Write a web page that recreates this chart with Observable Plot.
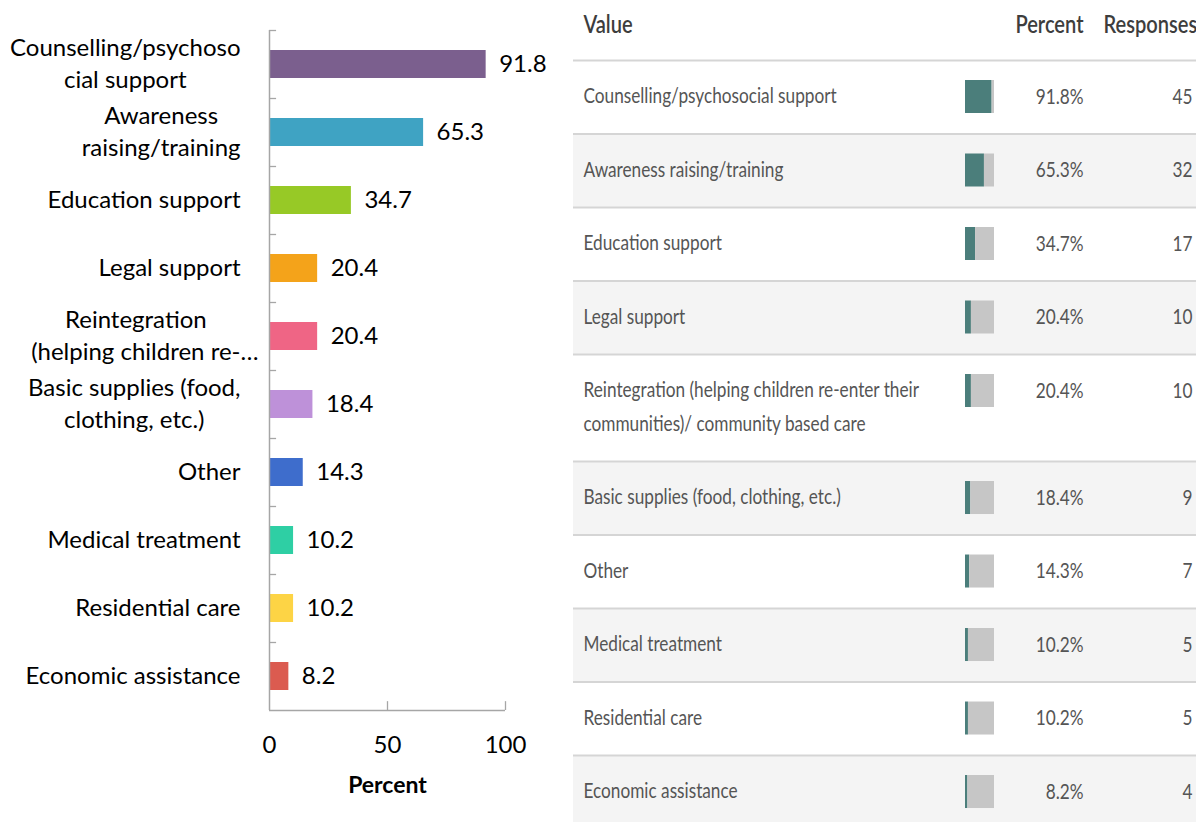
<!DOCTYPE html>
<html><head><meta charset="utf-8">
<script src="https://cdn.jsdelivr.net/npm/d3@7"></script>
<script src="https://cdn.jsdelivr.net/npm/@observablehq/plot@0.6"></script>
<style>
html,body{margin:0;padding:0;background:#fff;overflow:hidden;width:1196px;height:822px;}
#left{position:absolute;left:0;top:0;width:570px;height:822px;}
#right{position:absolute;left:570px;top:0;width:626px;height:822px;overflow:hidden;}
#right svg,#left svg{max-width:none !important;}
</style></head><body>
<div id="left"></div><div id="right"></div>
<script>
// ---- data ----
const categories = ["Counselling/psychosocial support","Awareness raising/training","Education support","Legal support","Reintegration","Basic supplies","Other","Medical treatment","Residential care","Economic assistance"];
const chartLabels = ["Counselling/psychoso\ncial support","Awareness\nraising/training","Education support","Legal support","Reintegration\n(helping children re-…","Basic supplies (food,\nclothing, etc.)","Other","Medical treatment","Residential care","Economic assistance"];
const tableLabels = ["Counselling/psychosocial support","Awareness raising/training","Education support","Legal support","Reintegration (helping children re-enter their\ncommunities)/ community based care","Basic supplies (food, clothing, etc.)","Other","Medical treatment","Residential care","Economic assistance"];
const percents = [91.8,65.3,34.7,20.4,20.4,18.4,14.3,10.2,10.2,8.2];
const responses = [45,32,17,10,10,9,7,5,5,4];
const xTicks = [0,50,100];
const headers = ["Value","Percent","Responses"];
const axisTitle = "Percent";

// ---- styles ----
const palette = ["#7b5f8e","#3fa3c3","#97c926","#f4a31a","#ef6585","#be91d9","#3e6dcc","#2ecfa4","#fdd445","#db5b50"];
const axisGray = "#a6a6a6";
const leftFont = "Lato, 'Open Sans', sans-serif";
const tableFont = "Lato, 'Open Sans', sans-serif";
const fs = 24;

const n = categories.length;
const rows = categories.map((c,i)=>({i, cat:c, label:chartLabels[i], pct:percents[i]}));

const left = Plot.plot({
  width: 570, height: 822,
  marginLeft: 269, marginRight: 65, marginTop: 30, marginBottom: 112,
  style: {fontFamily: leftFont, background: "transparent", color: "#000", maxWidth: "none"},
  x: {domain:[0,100], axis:null},
  y: {domain:[0,n], reverse:true, axis:null},
  color: {domain: categories, range: palette},
  marks: [
    Plot.rect(rows, {x1:0, x2:"pct", y1:"i", y2:d=>d.i+1, insetTop:20, insetBottom:20, fill:"cat"}),
    Plot.ruleY(d3.range(n), {y:d=>d, x1:0, x2:3, stroke:axisGray, strokeWidth:1.3}),
    Plot.ruleX([0], {stroke:axisGray, strokeWidth:1.5}),
    Plot.ruleY([n], {x1:0, x2:100, stroke:axisGray, strokeWidth:1.5}),
    Plot.ruleX(xTicks.slice(1), {x:d=>d, y1:n, y2:n-0.13, stroke:axisGray, strokeWidth:1.3}),
    Plot.text(rows, {x:"pct", y:d=>d.i+0.5, text:d=>d.pct.toFixed(1), textAnchor:"start", dx:13, fontSize:fs, fill:"#000"}),
    Plot.text(rows, {x:0, y:d=>d.i+0.5, text:"label", textAnchor:"end", dx:-29, dy:-3, fontSize:fs, lineHeight:1.33, fill:"#000"}),
    Plot.text(xTicks, {x:d=>d, y:n, dy:35, text:d=>String(d), fontSize:fs, fill:"#000"}),
    Plot.text([axisTitle], {frameAnchor:"bottom", dy:82, text:d=>d, fontWeight:"bold", fontSize:fs-1, fill:"#000"})
  ]
});
document.getElementById("left").appendChild(left);
// centre multi-line category labels as blocks (Excel style; a trailing ellipsis overflows the block)
left.querySelectorAll("text").forEach(t => {
  const spans = t.querySelectorAll("tspan");
  if (spans.length > 1) {
    let w = 0;
    spans.forEach(s => {
      const str = s.textContent;
      const len = str.endsWith("…") ? s.getSubStringLength(0, str.length - 1) : s.getComputedTextLength();
      w = Math.max(w, len);
    });
    t.setAttribute("text-anchor","start");
    t.style.textAnchor = "start";
    spans.forEach(s => {
      const str = s.textContent;
      const len = str.endsWith("…") ? s.getSubStringLength(0, str.length - 1) : s.getComputedTextLength();
      s.setAttribute("x", -w/2 - len/2);
    });
  }
});

// ---- table ----
const lineCounts = tableLabels.map(s => s.split("\n").length);
const rowH = lineCounts.map(c => 1 + (c-1)*0.456);
let acc = 0; const tops = rowH.map(h => {const t = acc; acc += h; return t;});
const total = acc, unit = 73.5;
const tRows = categories.map((c,i)=>({i, label:tableLabels[i], pct:percents[i], resp:responses[i], top:tops[i], bottom:tops[i]+rowH[i]}));
const txt = "#555", hdr = "#3d3d3d";

const right = Plot.plot({
  width: 626, height: 822, marginLeft: 3, marginRight: 0, marginTop: 0, marginBottom: 0,
  style: {fontFamily: tableFont, background: "#fff", maxWidth: "none"},
  x: {domain:[0,100], range:[395,424], axis:null},
  y: {domain:[0,total], range:[60, 60+total*unit], axis:null},
  marks: [
    Plot.rect(tRows.filter(d=>d.i%2===1), {y1:"top", y2:"bottom", fill:"#f4f4f4"}),
    Plot.ruleY([0, ...tRows.map(d=>d.bottom)], {y:d=>d, stroke:"#d5d5d5", strokeWidth:2}),
    Plot.rect(tRows, {x1:0, x2:"pct", y1:"top", y2:d=>d.top+1, insetTop:20, insetBottom:20.5, fill:"#4b7e7b"}),
    Plot.rect(tRows, {x1:"pct", x2:100, y1:"top", y2:d=>d.top+1, insetTop:20, insetBottom:20.5, fill:"#c6c6c6"}),
    Plot.text(tRows, {frameAnchor:"left", y:d=>(d.top+d.bottom)/2, text:"label", textAnchor:"start", lineAnchor:"middle", dx:10, dy:-5, fontSize:21, lineHeight:1.6, fill:txt}),
    Plot.text(tRows, {frameAnchor:"left", y:d=>d.top+0.5, text:d=>d.pct.toFixed(1)+"%", textAnchor:"end", lineAnchor:"middle", dx:510, fontSize:21, fill:txt}),
    Plot.text(tRows, {frameAnchor:"left", y:d=>d.top+0.5, text:d=>String(d.resp), textAnchor:"end", lineAnchor:"middle", dx:619, fontSize:21, fill:txt}),
    Plot.text([headers[0]], {frameAnchor:"top-left", dx:10, dy:25, text:d=>d, textAnchor:"start", lineAnchor:"middle", fontSize:24.5, fontWeight:600, fill:hdr}),
    Plot.text([headers[1]], {frameAnchor:"top-left", dx:510, dy:25, text:d=>d, textAnchor:"end", lineAnchor:"middle", fontSize:24.5, fontWeight:600, fill:hdr}),
    Plot.text([headers[2]], {frameAnchor:"top-left", dx:530, dy:25, text:d=>d, textAnchor:"start", lineAnchor:"middle", fontSize:24.5, fontWeight:600, fill:hdr})
  ]
});
document.getElementById("right").appendChild(right);
// condensed look of the table font
right.querySelectorAll("text").forEach(t => {
  const tx = +(t.getAttribute("x") || 0);
  const tr = t.getAttribute("transform") || "";
  t.setAttribute("transform", `${tr} translate(${tx},0) scale(0.82,1) translate(${-tx},0)`);
});
</script>
</body></html>
